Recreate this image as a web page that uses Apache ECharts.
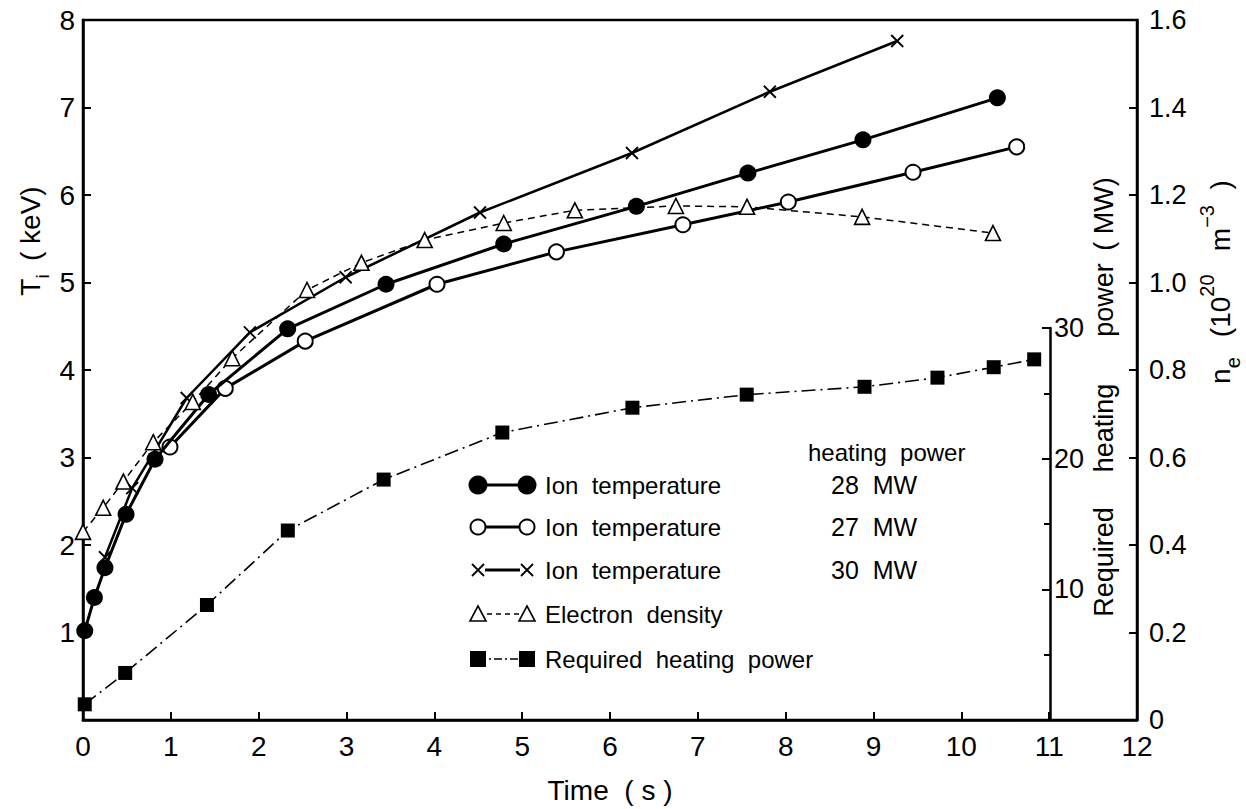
<!DOCTYPE html>
<html>
<head>
<meta charset="utf-8">
<script src="https://cdn.jsdelivr.net/npm/echarts@6/dist/echarts.min.js"></script>
<style>
  html, body { margin: 0; padding: 0; background: #fff; }
  #chart { width: 1246px; height: 809px; }
</style>
</head>
<body>
<div id="chart"></div>
<script>
// Ion temperature, 28 MW (filled circles)
const time28 = [0.02, 0.13, 0.25, 0.49, 0.82, 1.43, 2.33, 3.45, 4.79, 6.30, 7.57, 8.88, 10.41];
const ti28   = [1.02, 1.40, 1.74, 2.35, 2.98, 3.72, 4.47, 4.98, 5.44, 5.87, 6.25, 6.63, 7.11];
// Ion temperature, 27 MW (open circles)
const time27 = [0.99, 1.62, 2.53, 4.03, 5.39, 6.83, 8.03, 9.45, 10.63];
const ti27   = [3.12, 3.79, 4.33, 4.98, 5.35, 5.66, 5.92, 6.26, 6.55];
// Ion temperature, 30 MW (crosses)
const time30 = [0.25, 0.56, 1.18, 1.90, 2.99, 4.52, 6.25, 7.82, 9.27];
const ti30   = [1.86, 2.65, 3.68, 4.43, 5.06, 5.80, 6.48, 7.18, 7.76];
// Electron density, 10^20 m^-3 (triangles)
const timeNe = [0.0, 0.23, 0.46, 0.80, 1.25, 1.70, 2.55, 3.17, 3.89, 4.79, 5.60, 6.75, 7.56, 8.87, 10.36];
const ne     = [0.43, 0.485, 0.545, 0.635, 0.727, 0.827, 0.983, 1.045, 1.097, 1.136, 1.165, 1.175, 1.173, 1.150, 1.113];
// Required heating power, MW (squares)
const timeP  = [0.02, 0.48, 1.41, 2.33, 3.42, 4.77, 6.25, 7.55, 8.89, 9.72, 10.36, 10.82];
const power  = [1.2, 3.6, 8.8, 14.5, 18.4, 22.0, 23.9, 24.9, 25.5, 26.2, 27.0, 27.6];

// Axis ranges and ticks
const timeTicks = { min: 0, max: 12, step: 1 };
const tiTicks = { min: 0, max: 8, step: 1 };
const neTicks = { min: 0, max: 1.6, step: 0.2 };
const powerTicks = { min: 0, max: 30, step: 10 };

// Legend rows and heating power column
const legendLabels = ['Ion  temperature', 'Ion  temperature', 'Ion  temperature', 'Electron  density', 'Required  heating  power'];
const legendPowers = ['28  MW', '27  MW', '30  MW'];
const powerHeader = 'heating  power';
// Title of the inner power axis, one word per piece
const powerTitleWords = ['Required', 'heating', 'power', '( MW)'];

const zip = (xs, ys) => xs.map((x, i) => [x, ys[i]]);

const FONT = '"Liberation Sans", "DejaVu Sans", sans-serif';
const BLACK = '#000';

const chart = echarts.init(document.getElementById('chart'), null, { renderer: 'svg' });

const axisLine = { show: true, onZero: false, lineStyle: { color: BLACK, width: 2.5 } };
const tick = { inside: true, length: 8, lineStyle: { color: BLACK, width: 2 } };
const label = (size) => ({ color: BLACK, fontSize: size, fontFamily: FONT });

// Legend drawn as graphic elements: symbol, connector, symbol, text
const rowsY = [485, 527, 570, 614, 659];
const symL = 478, symR = 527;
const legend = [];
function connector(y, width, dash) {
  legend.push({ type: 'line', shape: { x1: symL, y1: y, x2: symR, y2: y },
    style: { stroke: BLACK, lineWidth: width, lineDash: dash || null }, z: 10 });
}
// row 1: filled circles
connector(rowsY[0], 3, null);
[symL, symR].forEach(x => legend.push({ type: 'circle', shape: { cx: x, cy: rowsY[0], r: 9.5 }, style: { fill: BLACK }, z: 11 }));
// row 2: open circles
connector(rowsY[1], 3, null);
[symL, symR].forEach(x => legend.push({ type: 'circle', shape: { cx: x, cy: rowsY[1], r: 7.5 }, style: { fill: '#fff', stroke: BLACK, lineWidth: 2 }, z: 11 }));
// row 3: crosses
legend.push({ type: 'line', shape: { x1: symL + 7, y1: rowsY[2], x2: symR - 7, y2: rowsY[2] }, style: { stroke: BLACK, lineWidth: 3 }, z: 10 });
[symL, symR].forEach(x => {
  legend.push({ type: 'line', shape: { x1: x - 6, y1: rowsY[2] - 6, x2: x + 6, y2: rowsY[2] + 6 }, style: { stroke: BLACK, lineWidth: 1.8 }, z: 11 });
  legend.push({ type: 'line', shape: { x1: x - 6, y1: rowsY[2] + 6, x2: x + 6, y2: rowsY[2] - 6 }, style: { stroke: BLACK, lineWidth: 1.8 }, z: 11 });
});
// row 4: triangles
connector(rowsY[3], 1.5, [5, 4]);
[symL, symR].forEach(x => legend.push({ type: 'polygon',
  shape: { points: [[x, rowsY[3] - 8], [x + 8, rowsY[3] + 7], [x - 8, rowsY[3] + 7]] },
  style: { fill: '#fff', stroke: BLACK, lineWidth: 1.6 }, z: 11 }));
// row 5: squares
connector(rowsY[4], 1.5, [8, 3, 2, 3]);
[symL, symR].forEach(x => legend.push({ type: 'rect', shape: { x: x - 8, y: rowsY[4] - 8, width: 16, height: 16 }, style: { fill: BLACK }, z: 11 }));
// legend text
legendLabels.forEach((t, i) => legend.push({ type: 'text', x: 545, y: rowsY[i],
  style: { text: t, fill: BLACK, font: '24px ' + FONT, textVerticalAlign: 'middle', textAlign: 'left' }, z: 11 }));
legend.push({ type: 'text', x: 808, y: 452,
  style: { text: powerHeader, fill: BLACK, font: '24px ' + FONT, textVerticalAlign: 'middle', textAlign: 'left' }, z: 11 });
legendPowers.forEach((t, i) => legend.push({ type: 'text', x: 831, y: rowsY[i],
  style: { text: t, fill: BLACK, font: '25px ' + FONT, textVerticalAlign: 'middle', textAlign: 'left' }, z: 11 }));

// Rotated axis titles
const titles = [
  { type: 'text', x: 30, y: 241, rotation: Math.PI / 2,
    style: { text: '{m|T}{s|i}    {m|( keV)}', textAlign: 'center', textVerticalAlign: 'middle', fill: BLACK,
      rich: { m: { fontSize: 28, fontFamily: FONT, lineHeight: 44, verticalAlign: 'middle', color: BLACK },
              s: { fontSize: 19, fontFamily: FONT, lineHeight: 44, verticalAlign: 'bottom', color: BLACK } } } },
  { type: 'text', x: 1220, y: 282, rotation: Math.PI / 2,
    style: { text: '{m|n}{s|e}      {m|(10}{p|20}{m|   m}{p|−3}{m|  )}', textAlign: 'center', textVerticalAlign: 'middle', fill: BLACK,
      rich: { m: { fontSize: 28, fontFamily: FONT, lineHeight: 46, verticalAlign: 'middle', color: BLACK },
              s: { fontSize: 20, fontFamily: FONT, lineHeight: 46, verticalAlign: 'bottom', color: BLACK },
              p: { fontSize: 20, fontFamily: FONT, lineHeight: 46, verticalAlign: 'top', color: BLACK } } } }
];
const powerTitleY = [562, 428, 300, 214];
powerTitleWords.forEach((w, i) => titles.push({ type: 'text', x: 1104, y: powerTitleY[i], rotation: Math.PI / 2,
  style: { text: w, textAlign: 'center', textVerticalAlign: 'middle', fill: BLACK, font: '27px ' + FONT } }));

const option = {
  backgroundColor: '#fff',
  animation: false,
  grid: [
    { left: 83, right: 109, top: 20, bottom: 89, show: true, borderColor: BLACK, borderWidth: 2.5, backgroundColor: 'transparent' },
    { left: 83, width: 967, top: 328, bottom: 89 }
  ],
  xAxis: [
    { gridIndex: 0, type: 'value', min: timeTicks.min, max: timeTicks.max, interval: timeTicks.step,
      axisLine, axisTick: tick, splitLine: { show: false },
      axisLabel: Object.assign(label(28), { margin: 12 }),
      name: 'Time  ( s )', nameLocation: 'middle', nameGap: 56,
      nameTextStyle: { color: BLACK, fontSize: 28, fontFamily: FONT } },
    { gridIndex: 1, type: 'value', min: 0, max: 11, show: false }
  ],
  yAxis: [
    { gridIndex: 0, type: 'value', position: 'left', min: tiTicks.min, max: tiTicks.max, interval: tiTicks.step,
      axisLine, axisTick: tick, splitLine: { show: false },
      axisLabel: Object.assign(label(28), { margin: 8, formatter: v => v === 0 ? '' : String(v) }) },
    { gridIndex: 0, type: 'value', position: 'right', min: neTicks.min, max: neTicks.max, interval: neTicks.step,
      axisLine, axisTick: tick, splitLine: { show: false },
      axisLabel: Object.assign(label(27), { margin: 12, formatter: v => v === 0 ? '0' : v.toFixed(1) }) },
    { gridIndex: 1, type: 'value', position: 'right', min: powerTicks.min, max: powerTicks.max, interval: powerTicks.step,
      axisLine, axisTick: tick,
      minorTick: { show: true, splitNumber: 2, length: 6, lineStyle: { color: BLACK, width: 2 } },
      splitLine: { show: false }, minorSplitLine: { show: false },
      axisLabel: Object.assign(label(27), { margin: 4, formatter: v => v === 0 ? '' : String(v) }) }
  ],
  graphic: { elements: titles.concat(legend) },
  series: [
    { name: 'Ion temperature 28 MW', type: 'line', xAxisIndex: 0, yAxisIndex: 0, data: zip(time28, ti28),
      symbol: 'circle', symbolSize: 17, itemStyle: { color: BLACK },
      lineStyle: { color: BLACK, width: 3 }, z: 5 },
    { name: 'Ion temperature 27 MW', type: 'line', xAxisIndex: 0, yAxisIndex: 0, data: zip(time27, ti27),
      symbol: 'circle', symbolSize: 15, itemStyle: { color: '#fff', borderColor: BLACK, borderWidth: 2 },
      lineStyle: { color: BLACK, width: 3 }, z: 4 },
    { name: 'Ion temperature 30 MW', type: 'line', xAxisIndex: 0, yAxisIndex: 0, data: zip(time30, ti30),
      symbol: 'path://M0,0L10,10M10,0L0,10', symbolSize: 12,
      itemStyle: { color: BLACK, borderColor: BLACK, borderWidth: 1.8 },
      lineStyle: { color: BLACK, width: 2.5 }, z: 3 },
    { name: 'Electron density', type: 'line', xAxisIndex: 0, yAxisIndex: 1, data: zip(timeNe, ne),
      symbol: 'triangle', symbolSize: 15, itemStyle: { color: '#fff', borderColor: BLACK, borderWidth: 1.6 },
      lineStyle: { color: BLACK, width: 1.5, type: [7, 5] }, z: 6 },
    { name: 'Required heating power', type: 'line', xAxisIndex: 1, yAxisIndex: 2, data: zip(timeP, power),
      symbol: 'rect', symbolSize: 14, itemStyle: { color: BLACK },
      lineStyle: { color: BLACK, width: 1.6, type: [14, 5, 2, 5] }, z: 2 }
  ]
};

chart.setOption(option);
</script>
</body>
</html>
